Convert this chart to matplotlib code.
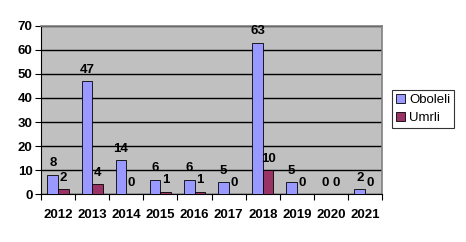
import matplotlib
matplotlib.use("Agg")
import matplotlib.pyplot as plt
import numpy as np

years = ["2012", "2013", "2014", "2015", "2016", "2017", "2018", "2019", "2020", "2021"]
oboleli = [8, 47, 14, 6, 6, 5, 63, 5, 0, 2]
umrli = [2, 4, 0, 1, 1, 0, 10, 0, 0, 0]
series_names = ["Oboleli", "Umrli"]
yticks = [0, 10, 20, 30, 40, 50, 60, 70]

plt.rcParams['font.family'] = ['Liberation Sans', 'DejaVu Sans']
FS = 9.5

fig = plt.figure(figsize=(4.66, 2.42), dpi=100)
ax = fig.add_axes([0.088, 0.198, 0.732, 0.695])
ax.set_facecolor('#C0C0C0')

x = np.arange(len(years))
w = 0.31
b1 = ax.bar(x - w/2, oboleli, w, color='#9999FF', edgecolor='black', linewidth=0.6, label=series_names[0], zorder=3)
b2 = ax.bar(x + w/2, umrli, w, color='#993366', edgecolor='black', linewidth=0.6, label=series_names[1], zorder=3)

for bars, vals in ((b1, oboleli), (b2, umrli)):
    for r, v in zip(bars, vals):
        ax.annotate(str(v), (r.get_x() + r.get_width()/2, v), xytext=(0, 4),
                    textcoords='offset points', ha='center', va='bottom',
                    fontsize=FS, fontweight='bold', zorder=4)

ax.set_xlim(-0.5, len(years) - 0.5)
ax.set_ylim(0, 70)
ax.set_yticks(yticks)
ax.set_yticklabels([str(t) for t in yticks], fontsize=FS, fontweight='bold')
ax.yaxis.grid(True, color='black', linewidth=1.0, zorder=1)
ax.set_axisbelow(True)

ax.set_xticks(np.arange(len(years) + 1) - 0.5)
ax.set_xticklabels([])
ax.set_xticks(x, minor=True)
ax.set_xticklabels(years, minor=True, fontsize=FS, fontweight='bold')
ax.tick_params(axis='x', which='minor', length=0, pad=11)
ax.tick_params(axis='x', which='major', length=4, direction='out', width=0.8)
ax.tick_params(axis='y', length=4, direction='out', width=0.8, pad=2)

for s in ('top', 'right'):
    ax.spines[s].set_color('#808080')
    ax.spines[s].set_linewidth(1.2)
for s in ('left', 'bottom'):
    ax.spines[s].set_color('black')
    ax.spines[s].set_linewidth(0.8)

leg = fig.legend(loc='upper left', bbox_to_anchor=(392/466, 1 - 90/242),
                 fontsize=FS, frameon=True, fancybox=False, edgecolor='black',
                 handlelength=0.7, handleheight=0.7, handletextpad=0.3,
                 borderpad=0.3, labelspacing=0.45, borderaxespad=0)
leg.get_frame().set_linewidth(0.8)

fig.savefig('out.png', dpi=100)
